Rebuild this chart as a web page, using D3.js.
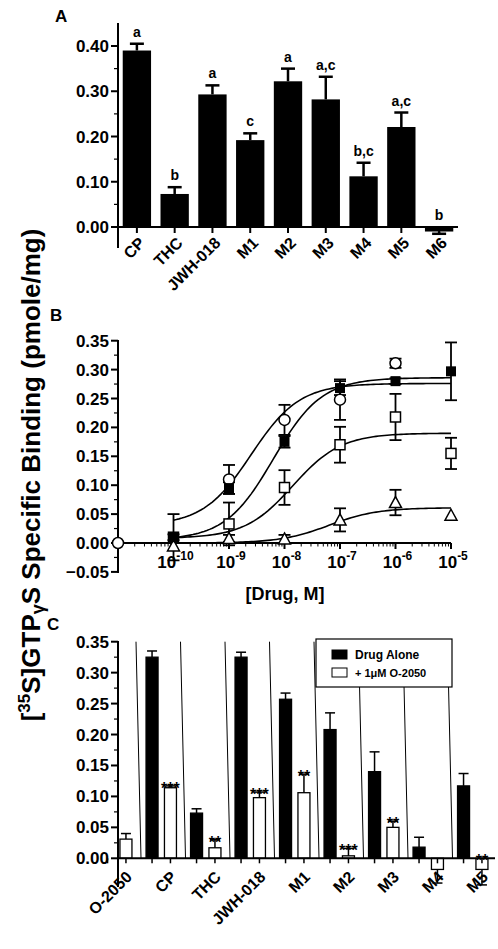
<!DOCTYPE html>
<html><head><meta charset="utf-8">
<script src="https://cdn.jsdelivr.net/npm/d3@7"></script>
<style>body{margin:0;background:#fff}text{font-family:"Liberation Sans",Arial,sans-serif;font-weight:bold}</style>
</head><body><svg id="c" width="498" height="949"></svg>
<script>
// Panel A
const catsA = ["CP","THC","JWH-018","M1","M2","M3","M4","M5","M6"];
const valsA = [0.39,0.073,0.293,0.192,0.322,0.282,0.112,0.221,-0.01];
const errsA = [0.015,0.015,0.02,0.015,0.028,0.05,0.03,0.032,0.005];
const lettersA = ["a","b","a","c","a","a,c","b,c","a,c","b"];
const ticksA = [0,0.1,0.2,0.3,0.4];

// Panel B: log10 concentration
const doseB = [-10,-9,-8,-7,-6,-5];
const filledSq = [0.01,0.095,0.175,0.268,0.28,0.297];
const filledSqErr = [0.04,0.01,0.01,0.012,0.005,0.05];
const openCircX = [-11,-9,-8,-7,-6];
const openCirc = [0.0,0.11,0.213,0.248,0.311];
const openCircErr = [0,0.025,0.026,0.035,0.008];
const openSq = [0.01,0.033,0.096,0.17,0.218,0.155];
const openSqErr = [0.005,0.037,0.03,0.031,0.04,0.027];
const tri = [-0.005,0.008,0.007,0.04,0.07,0.048];
const triErr = [0,0.006,0.007,0.02,0.022,0];
// Hill fit parameters [bottom, top, logEC50]
const fits = [[0.03,0.276,-8.6],[0.005,0.286,-8.2],[0.008,0.19,-7.85],[0.0,0.061,-7.2]];
const ticksB = [-0.05,0,0.05,0.1,0.15,0.2,0.25,0.3,0.35];

// Panel C
const catsC = ["O-2050","CP","THC","JWH-018","M1","M2","M3","M4","M5"];
const aloneC = [null,0.325,0.073,0.325,0.257,0.208,0.14,0.018,0.117];
const aloneErr = [0,0.01,0.007,0.008,0.01,0.027,0.032,0.016,0.02];
const plusC = [0.031,0.114,0.017,0.098,0.106,0.004,0.05,-0.018,-0.018];
const plusErr = [0.009,0.003,0.013,0.009,0.03,0.012,0.01,0.022,0.025];
const starsC = ["","***","**","***","**","***","**","","**"];
const ticksC = [0,0.05,0.1,0.15,0.2,0.25,0.3,0.35];

const svg = d3.select("#c");
const fmt2 = d3.format(".2f");

function yAxis(g, y, ticks, minor, top, bottom) {
  g.append("line").attr("x1",118).attr("x2",118).attr("y1",top).attr("y2",bottom).attr("stroke","#000").attr("stroke-width",2);
  minor.forEach(v => g.append("line").attr("x1",114).attr("x2",118).attr("y1",y(v)).attr("y2",y(v)).attr("stroke","#000").attr("stroke-width",1.2));
  ticks.forEach(v => {
    g.append("line").attr("x1",111).attr("x2",118).attr("y1",y(v)).attr("y2",y(v)).attr("stroke","#000").attr("stroke-width",2);
    g.append("text").attr("x",109).attr("y",y(v)+6).attr("text-anchor","end").attr("font-size",17).text(fmt2(v));
  });
}

// ---- A
{
  const g = svg.append("g");
  const x = d3.scaleBand().domain(catsA).range([118,458]).paddingInner(0.25).paddingOuter(0.125);
  const y = d3.scaleLinear().domain([0,0.4]).range([227,46]);
  catsA.forEach((c,i) => {
    const v = valsA[i], e = errsA[i], cx = x(c)+x.bandwidth()/2;
    g.append("rect").attr("x",x(c)).attr("width",x.bandwidth()).attr("y",y(Math.max(0,v))).attr("height",Math.abs(y(v)-y(0))).attr("fill","#000");
    const ey = v >= 0 ? v+e : v-e;
    g.append("line").attr("x1",cx).attr("x2",cx).attr("y1",y(v)).attr("y2",y(ey)).attr("stroke","#000").attr("stroke-width",2.5);
    g.append("line").attr("x1",cx-7).attr("x2",cx+7).attr("y1",y(ey)).attr("y2",y(ey)).attr("stroke","#000").attr("stroke-width",2.5);
    g.append("text").attr("x",cx).attr("y",(v>=0?y(ey):y(0))-7).attr("text-anchor","middle").attr("font-size",14).text(lettersA[i]);
    g.append("line").attr("x1",cx).attr("x2",cx).attr("y1",227).attr("y2",233).attr("stroke","#000").attr("stroke-width",2);
    g.append("text").attr("transform",`translate(${cx+9},${244}) rotate(-45)`).attr("text-anchor","end").attr("font-size",16).text(c);
  });
  g.append("line").attr("x1",118).attr("x2",458).attr("y1",227).attr("y2",227).attr("stroke","#000").attr("stroke-width",2);
  yAxis(g, y, ticksA, [0.05,0.15,0.25,0.35], 23, 248);
  g.append("text").attr("x",55).attr("y",22).attr("font-size",17).text("A");
}

// ---- B
{
  const g = svg.append("g");
  const x = d3.scaleLinear().domain([-11,-5]).range([118,451]);
  const y = d3.scaleLinear().domain([0,0.35]).range([543,340.7]);
  yAxis(g, y, ticksB, d3.range(-0.025,0.35,0.05), 340, 573);
  g.append("line").attr("x1",118).attr("x2",451).attr("y1",y(0)).attr("y2",y(0)).attr("stroke","#000").attr("stroke-width",2);
  for (let d=-11; d<-5; d++) for (let k=2;k<10;k++) {
    const xx = x(d+Math.log10(k));
    g.append("line").attr("x1",xx).attr("x2",xx).attr("y1",y(0)).attr("y2",y(0)+3.5).attr("stroke","#000").attr("stroke-width",1);
  }
  doseB.forEach(d => {
    g.append("line").attr("x1",x(d)).attr("x2",x(d)).attr("y1",y(0)).attr("y2",y(0)+6).attr("stroke","#000").attr("stroke-width",2);
    const t = g.append("text").attr("x",x(d)+2).attr("y",568).attr("text-anchor","middle").attr("font-size",17);
    t.append("tspan").text("10");
    t.append("tspan").attr("dy",-8).attr("font-size",12).text(d);
  });
  g.append("text").attr("x",285).attr("y",600).attr("text-anchor","middle").attr("font-size",18).text("[Drug, M]");
  const line = d3.line().x(d=>x(d[0])).y(d=>y(d[1]));
  fits.forEach(f => {
    const pts = d3.range(-10,-4.999,0.05).map(l => [l, f[0]+(f[1]-f[0])/(1+Math.pow(10,f[2]-l))]);
    g.append("path").attr("d",line(pts)).attr("fill","none").attr("stroke","#000").attr("stroke-width",1.6);
  });
  function errs(xs, vs, es) {
    xs.forEach((d,i) => { if (!es[i]) return;
      const cx=x(d);
      g.append("line").attr("x1",cx).attr("x2",cx).attr("y1",y(vs[i]-es[i])).attr("y2",y(vs[i]+es[i])).attr("stroke","#000").attr("stroke-width",1.8);
      [vs[i]-es[i],vs[i]+es[i]].forEach(e => g.append("line").attr("x1",cx-6).attr("x2",cx+6).attr("y1",y(e)).attr("y2",y(e)).attr("stroke","#000").attr("stroke-width",1.8));
    });
  }
  errs(doseB, filledSq, filledSqErr); errs(openCircX, openCirc, openCircErr); errs(doseB, openSq, openSqErr); errs(doseB, tri, triErr);
  doseB.forEach((d,i)=>{
    g.append("rect").attr("x",x(d)-5).attr("y",y(openSq[i])-5).attr("width",10).attr("height",10).attr("fill","#fff").attr("stroke","#000").attr("stroke-width",1.5);
    const cx=x(d), cy=y(tri[i]);
    g.append("path").attr("d",`M${cx},${cy-6}L${cx+6},${cy+5}L${cx-6},${cy+5}Z`).attr("fill","#fff").attr("stroke","#000").attr("stroke-width",1.5);
  });
  openCircX.forEach((d,i)=> g.append("circle").attr("cx",x(d)).attr("cy",y(openCirc[i])).attr("r",5.5).attr("fill","#fff").attr("stroke","#000").attr("stroke-width",1.5));
  doseB.forEach((d,i)=> g.append("rect").attr("x",x(d)-5).attr("y",y(filledSq[i])-5).attr("width",10).attr("height",10).attr("fill","#000"));
  g.append("text").attr("x",50).attr("y",321).attr("font-size",17).text("B");
}

// ---- C
{
  const g = svg.append("g");
  const x = d3.scaleBand().domain(catsC).range([94.5,495]);
  const y = d3.scaleLinear().domain([0,0.35]).range([858.3,641.7]);
  const bw = 12, off = 9.2;
  // separator lines between groups
  catsC.slice(1).forEach(c => {
    const b = x(c);
    g.append("line").attr("x1",b-3).attr("x2",b+2).attr("y1",y(0.35)).attr("y2",y(0)).attr("stroke","#000").attr("stroke-width",1);
  });
  function bar(cx, v, e, fill) {
    g.append("rect").attr("x",cx-bw/2).attr("width",bw).attr("y",y(Math.max(0,v))).attr("height",Math.abs(y(v)-y(0))).attr("fill",fill).attr("stroke","#000").attr("stroke-width",1.3);
    const ey = v>=0 ? v+e : v-e;
    g.append("line").attr("x1",cx).attr("x2",cx).attr("y1",y(v)).attr("y2",y(ey)).attr("stroke","#000").attr("stroke-width",1.5);
    g.append("line").attr("x1",cx-5).attr("x2",cx+5).attr("y1",y(ey)).attr("y2",y(ey)).attr("stroke","#000").attr("stroke-width",1.5);
    return ey;
  }
  catsC.forEach((c,i) => {
    const m = x(c)+x.bandwidth()/2;
    if (aloneC[i] !== null) bar(m-off, aloneC[i], aloneErr[i], "#000");
    const ey = bar(m+off, plusC[i], plusErr[i], "#fff");
    if (starsC[i]) g.append("text").attr("x",m+off).attr("y",y(Math.max(ey,0))+8).attr("text-anchor","middle").attr("font-size",16).attr("font-weight","normal").text(starsC[i]);
    [m-off,m+off].forEach(t => g.append("line").attr("x1",t).attr("x2",t).attr("y1",y(0)).attr("y2",y(0)+5).attr("stroke","#000").attr("stroke-width",1.5));
    g.append("text").attr("transform",`translate(${m+off+7},${878}) rotate(-45)`).attr("text-anchor","end").attr("font-size",16).text(c);
  });
  g.append("line").attr("x1",118).attr("x2",495).attr("y1",y(0)).attr("y2",y(0)).attr("stroke","#000").attr("stroke-width",2);
  yAxis(g, y, ticksC, d3.range(0.025,0.35,0.05), 641, 887);
  const lg = g.append("g");
  lg.append("rect").attr("x",316).attr("y",639).attr("width",136).attr("height",48).attr("fill","#fff").attr("stroke","#000").attr("stroke-width",1.2);
  [["Drug Alone","#000"],["+ 1\u03bcM O-2050","#fff"]].forEach((d,i) => {
    lg.append("rect").attr("x",332).attr("y",650+i*18).attr("width",15).attr("height",9).attr("fill",d[1]).attr("stroke","#000");
    lg.append("text").attr("x",355).attr("y",659+i*18).attr("font-size",i?11:12).text(d[0]);
  });
  g.append("text").attr("x",47).attr("y",630).attr("font-size",17).text("C");
}

// shared y label
const yl = svg.append("text").attr("transform","translate(40,475) rotate(-90)").attr("text-anchor","middle").attr("font-size",26);
yl.append("tspan").text("[");
yl.append("tspan").attr("font-size",17).attr("dy",-10).text("35");
yl.append("tspan").attr("dy",10).text("S]GTP");
yl.append("tspan").attr("font-size",18).attr("dy",4).text("\u03b3");
yl.append("tspan").attr("dy",-4).text("S Specific Binding (pmole/mg)");
</script></body></html>
